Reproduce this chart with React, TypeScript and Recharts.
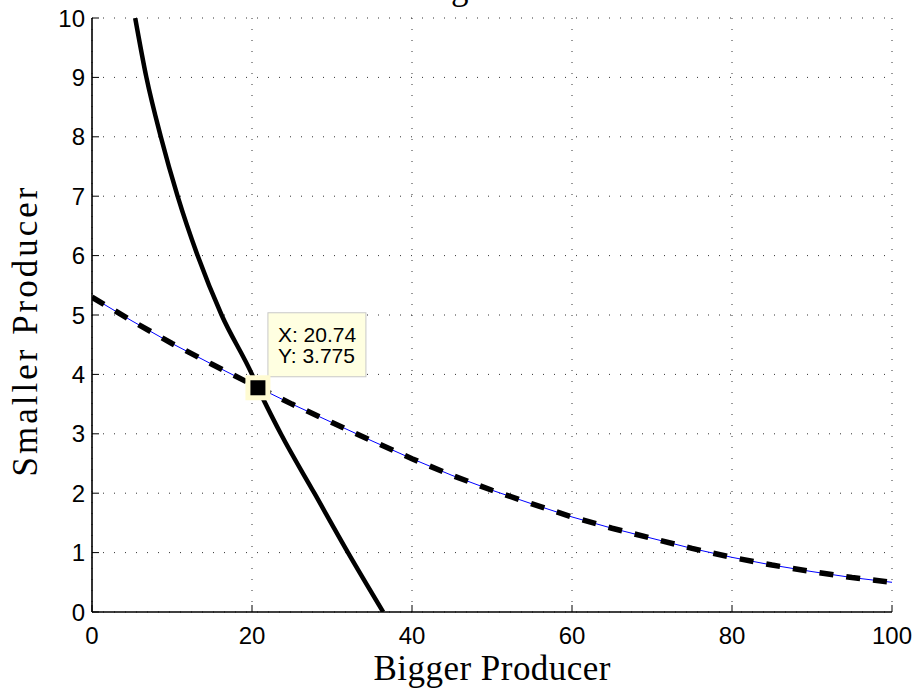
import React from 'react';
import { ComposedChart, Line, XAxis, YAxis, CartesianGrid, Scatter } from 'recharts';

// Tick values
const xTicks = [0, 20, 40, 60, 80, 100];
const yTicks = [0, 1, 2, 3, 4, 5, 6, 7, 8, 9, 10];

// Solid curve
const solidCurveX = [5.4, 6.8, 8.6, 10.7, 13.2, 16.2, 20.0, 20.74, 23.6, 27.8, 32.0, 36.4];
const solidCurveY = [10, 9, 8, 7, 6, 5, 4, 3.775, 3, 2, 1, 0];

// Dashed curve
const dashedCurveX = [0, 5, 10, 15, 20, 25, 30, 35, 40, 45, 50, 55, 60, 65, 70, 75, 80, 85, 90, 95, 100];
const dashedCurveY = [5.3, 4.9, 4.52, 4.17, 3.83, 3.5, 3.19, 2.88, 2.58, 2.3, 2.05, 1.82, 1.6, 1.41, 1.24, 1.07, 0.92, 0.79, 0.68, 0.58, 0.5];

// Data tip
const tipX = 20.74;
const tipY = 3.775;

const titleText = 'Strategic Outcome';
const xLabel = 'Bigger Producer';
const yLabel = 'Smaller Producer';

const solidData = solidCurveX.map((x, i) => ({ x, y: solidCurveY[i] }));
const dashedData = dashedCurveX.map((x, i) => ({ x, y: dashedCurveY[i] }));
const tipData = [{ x: tipX, y: tipY }];

const sans = 'Liberation Sans, Arial, Helvetica, sans-serif';
const serif = 'Liberation Serif, Times New Roman, serif';

const DataTip = (props: any) => {
  const { cx, cy } = props;
  if (cx == null || cy == null) return null;
  return (
    <g>
      <rect x={cx + 10} y={cy - 75} width={98} height={64} fill="#ffffe1" stroke="#c8c8c8" strokeWidth={1} />
      <text x={cx + 20} y={cy - 46} fontSize={21} fontFamily={sans} fill="#000">{`X: ${tipX}`}</text>
      <text x={cx + 20} y={cy - 25} fontSize={21} fontFamily={sans} fill="#000">{`Y: ${tipY}`}</text>
      <rect x={cx - 12.5} y={cy - 12.5} width={25} height={25} fill="#fffbd2" />
      <rect x={cx - 7.5} y={cy - 7.5} width={15} height={15} fill="#000" />
    </g>
  );
};

const XLabel = (props: any) => {
  const vb = props.viewBox || {};
  return (
    <text
      x={vb.x + vb.width / 2}
      y={vb.y + 68}
      textAnchor="middle"
      fontSize={35}
      fontFamily={serif}
      fill="#000"
      textLength={237}
      lengthAdjust="spacing"
    >
      {xLabel}
    </text>
  );
};

const YLabel = (props: any) => {
  const vb = props.viewBox || {};
  const cx = 37;
  const cy = vb.y + vb.height / 2 + 17;
  return (
    <text
      x={cx}
      y={cy}
      textAnchor="middle"
      fontSize={35}
      fontFamily={serif}
      fill="#000"
      textLength={289}
      lengthAdjust="spacing"
      transform={`rotate(-90, ${cx}, ${cy})`}
    >
      {yLabel}
    </text>
  );
};

export default function App() {
  return (
    <div style={{ position: 'absolute', left: 0, top: 0, width: 923, height: 696, background: '#fff' }}>
      <ComposedChart width={923} height={696} margin={{ top: 18, right: 31, bottom: 0, left: 0 }}>
        <CartesianGrid stroke="#333" strokeDasharray="1 10" strokeWidth={1} />
        <XAxis
          dataKey="x"
          type="number"
          domain={[0, 100]}
          ticks={xTicks}
          interval={0}
          allowDataOverflow
          height={84}
          tickSize={-7}
          tickMargin={22}
          axisLine={{ stroke: '#000', strokeWidth: 1.6 }}
          tickLine={{ stroke: '#000', strokeWidth: 1 }}
          tick={{ fill: '#000', fontSize: 24, fontFamily: sans }}
          label={XLabel}
        />
        <XAxis
          xAxisId="top"
          orientation="top"
          type="number"
          domain={[0, 100]}
          ticks={xTicks}
          interval={0}
          allowDataOverflow
          height={0}
          tickSize={-7}
          axisLine={{ stroke: '#000', strokeWidth: 1.6 }}
          tickLine={{ stroke: '#000', strokeWidth: 1 }}
          tick={false}
        />
        <YAxis
          type="number"
          domain={[0, 10]}
          ticks={yTicks}
          interval={0}
          allowDataOverflow
          width={92}
          tickSize={-7}
          tickMargin={14}
          axisLine={{ stroke: '#000', strokeWidth: 1.6 }}
          tickLine={{ stroke: '#000', strokeWidth: 1 }}
          tick={{ fill: '#000', fontSize: 24, fontFamily: sans }}
          label={YLabel}
        />
        <YAxis
          yAxisId="right"
          orientation="right"
          type="number"
          domain={[0, 10]}
          ticks={yTicks}
          interval={0}
          allowDataOverflow
          width={0}
          tickSize={-7}
          axisLine={{ stroke: '#000', strokeWidth: 1.6 }}
          tickLine={{ stroke: '#000', strokeWidth: 1 }}
          tick={false}
        />
        <Line
          data={solidData}
          dataKey="y"
          type="monotone"
          stroke="#000"
          strokeWidth={4.5}
          strokeLinejoin="round"
          dot={false}
          activeDot={false}
          isAnimationActive={false}
        />
        <Line
          data={dashedData}
          dataKey="y"
          type="linear"
          stroke="#0000ff"
          strokeWidth={1}
          dot={false}
          activeDot={false}
          isAnimationActive={false}
        />
        <Line
          data={dashedData}
          dataKey="y"
          type="linear"
          stroke="#000"
          strokeWidth={5.5}
          strokeDasharray="14 13"
          dot={false}
          activeDot={false}
          isAnimationActive={false}
        />
        <Scatter data={tipData} dataKey="y" shape={DataTip} isAnimationActive={false} />
      </ComposedChart>
      <svg width={923} height={20} style={{ position: 'absolute', left: 0, top: 0, overflow: 'hidden' }}>
        <text x={500} y={-1} textAnchor="middle" fontSize={35} fontFamily={serif} fill="#000">
          {titleText}
        </text>
      </svg>
    </div>
  );
}
